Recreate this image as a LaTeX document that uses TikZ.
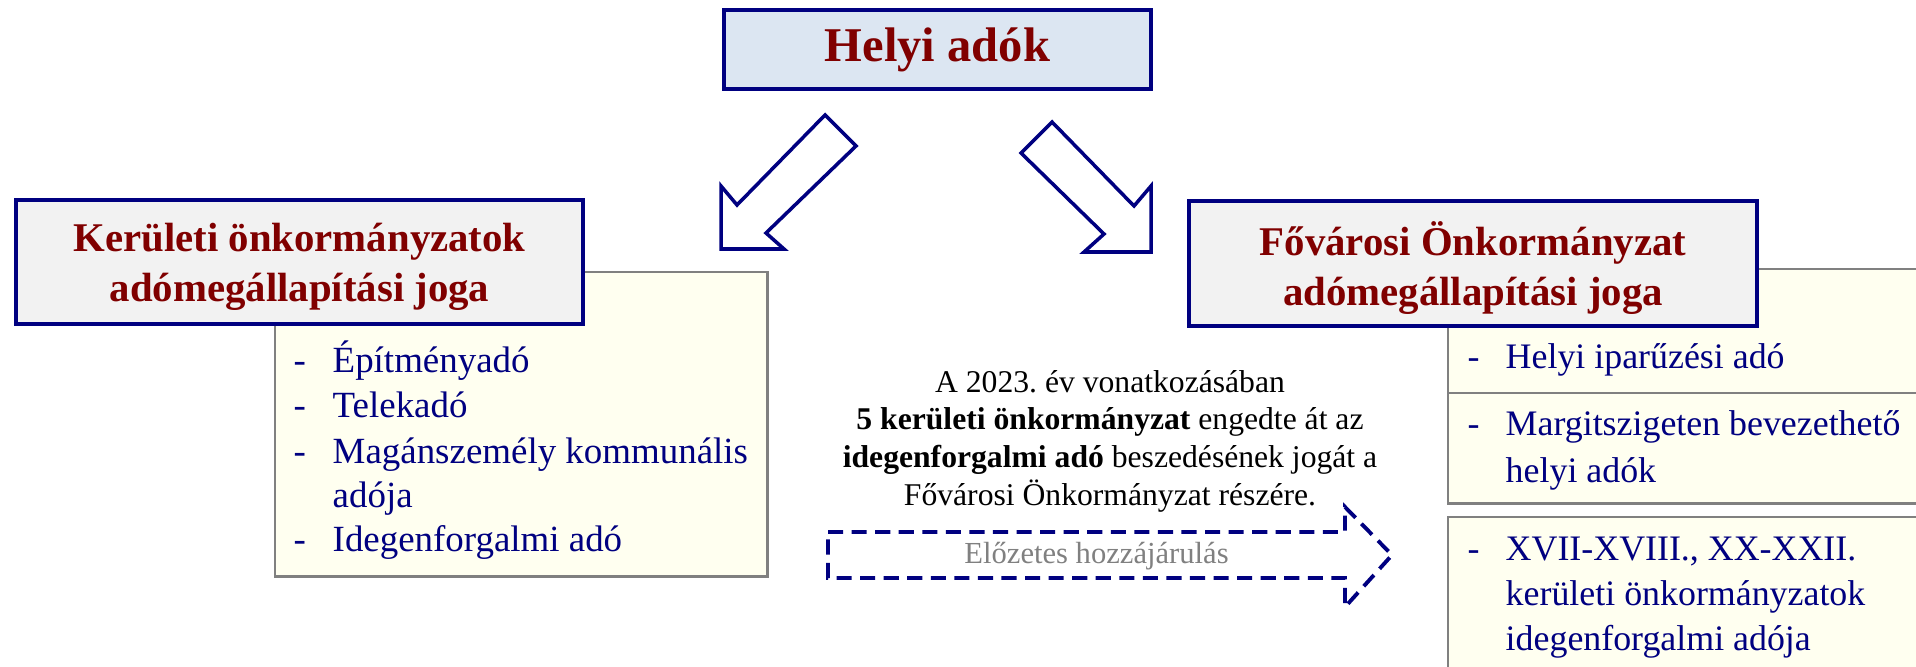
\documentclass[tikz,border=0pt]{standalone}
\usepackage{fontspec}
\setmainfont{Liberation Serif}
\definecolor{navyblue}{RGB}{0,0,128}
\definecolor{titlered}{RGB}{128,0,0}
\definecolor{headfill}{RGB}{220,230,242}
\definecolor{titlefill}{RGB}{242,242,242}
\definecolor{listfill}{RGB}{255,255,240}
\definecolor{listline}{RGB}{128,128,128}
\definecolor{graytext}{RGB}{128,128,128}
\tikzset{
  headbox/.style={draw=navyblue, line width=1.3pt, fill=headfill, inner sep=0pt,
    text=titlered, font=\bfseries\fontsize{13.8}{16}\selectfont},
  titlebox/.style={draw=navyblue, line width=1.3pt, fill=titlefill, inner sep=0pt,
    text depth=0pt, align=center, text=titlered, font=\bfseries\fontsize{11.6}{14.2}\selectfont},
  listbox/.style={draw=listline, line width=0.7pt, fill=listfill, anchor=north west},
  bigarrow/.style={draw=navyblue, line width=1pt, fill=white, line join=miter},
  grantarrow/.style={draw=navyblue, line width=1.1pt, dash pattern=on 4.3pt off 2.4pt},
  leftitem/.style={anchor=base west, inner sep=0pt, text=navyblue,
    font=\fontsize{10.5}{12}\selectfont},
  rightitem/.style={anchor=base west, inner sep=0pt, text=navyblue,
    font=\fontsize{10.2}{12}\selectfont},
  notetext/.style={anchor=base, inner sep=0pt, font=\fontsize{9}{10}\selectfont},
}
\frenchspacing
\begin{document}
\begin{tikzpicture}[x=0.01cm, y=-0.01cm]
   \useasboundingbox (0,0) rectangle (1916,667);
   \clip (0,0) rectangle (1916,667);

   % felso doboz
   \node[headbox, minimum width=4.27cm, minimum height=0.79cm] (helyi) at (937.5,49.5) {Helyi adók};

   % nyilak
   \draw[bigarrow] (825,115) -- (856,146) -- (766,233) -- (784,249)
   -- (721,249) -- (721,186) -- (737,205) -- cycle;
   \draw[bigarrow] (1052,122) -- (1021,153) -- (1104,234) -- (1084,252)
   -- (1151,252) -- (1151,186) -- (1134,206) -- cycle;

   % keruleti oldal
   \node[listbox, minimum width=4.92cm, minimum height=3.04cm] (kerlist) at (274,271) {};
   \node[titlebox, minimum width=5.67cm, minimum height=1.24cm] (kertitle) at (299.5,262)
   {Kerületi önkormányzatok\\adómegállapítási joga};
   \node[leftitem] (kd1) at (293,372) {-};
   \node[leftitem] (k1) at (332,372) {Építményadó};
   \node[leftitem] (kd2) at (293,417) {-};
   \node[leftitem] (k2) at (332,417) {Telekadó};
   \node[leftitem] (kd3) at (293,463) {-};
   \node[leftitem] (k3) at (332,463) {Magánszemély kommunális};
   \node[leftitem] (k3b) at (332,507) {adója};
   \node[leftitem] (kd4) at (293,551) {-};
   \node[leftitem] (k4) at (332,551) {Idegenforgalmi adó};

   % fovarosi oldal
   \node[listbox, minimum width=5cm, minimum height=1.24cm] (fovlist1) at (1447,268) {};
   \node[listbox, minimum width=5cm, minimum height=1.10cm] (fovlist2) at (1447,392) {};
   \node[listbox, minimum width=5cm, minimum height=1.8cm] (fovlist3) at (1447,516) {};
   \node[titlebox, minimum width=5.68cm, minimum height=1.25cm] (fovtitle) at (1473,263.5)
   {Fővárosi Önkormányzat\\adómegállapítási joga};
   \node[rightitem] (fd1) at (1467,368) {-};
   \node[rightitem] (f1) at (1505,368) {Helyi iparűzési adó};
   \node[rightitem] (fd2) at (1467,435) {-};
   \node[rightitem] (f2) at (1505,435) {Margitszigeten bevezethető};
   \node[rightitem] (f2b) at (1505,482) {helyi adók};
   \node[rightitem] (fd3) at (1467,560) {-};
   \node[rightitem] (f3) at (1505,560) {XVII-XVIII., XX-XXII.};
   \node[rightitem] (f3b) at (1505,605) {kerületi önkormányzatok};
   \node[rightitem] (f3c) at (1505,650) {idegenforgalmi adója};

   % kozepso szoveg
   \node[notetext] (note1) at (1110,392) {A 2023. év vonatkozásában};
   \node[notetext] (note2) at (1110,429) {\textbf{5 kerületi önkormányzat} engedte át az};
   \node[notetext] (note3) at (1110,467) {\textbf{idegenforgalmi adó} beszedésének jogát a};
   \node[notetext] (note4) at (1110,505) {Fővárosi Önkormányzat részére.};

   \draw[grantarrow] (828,532) -- (1345,532) -- (1345,507) -- (1392,555)
   -- (1345,607) -- (1345,578) -- (828,578) -- cycle;
   \node[notetext, text=graytext, font=\fontsize{8.7}{10}\selectfont] (grant) at (1096.5,563) {Előzetes hozzájárulás};

 \end{tikzpicture}
\end{document}
